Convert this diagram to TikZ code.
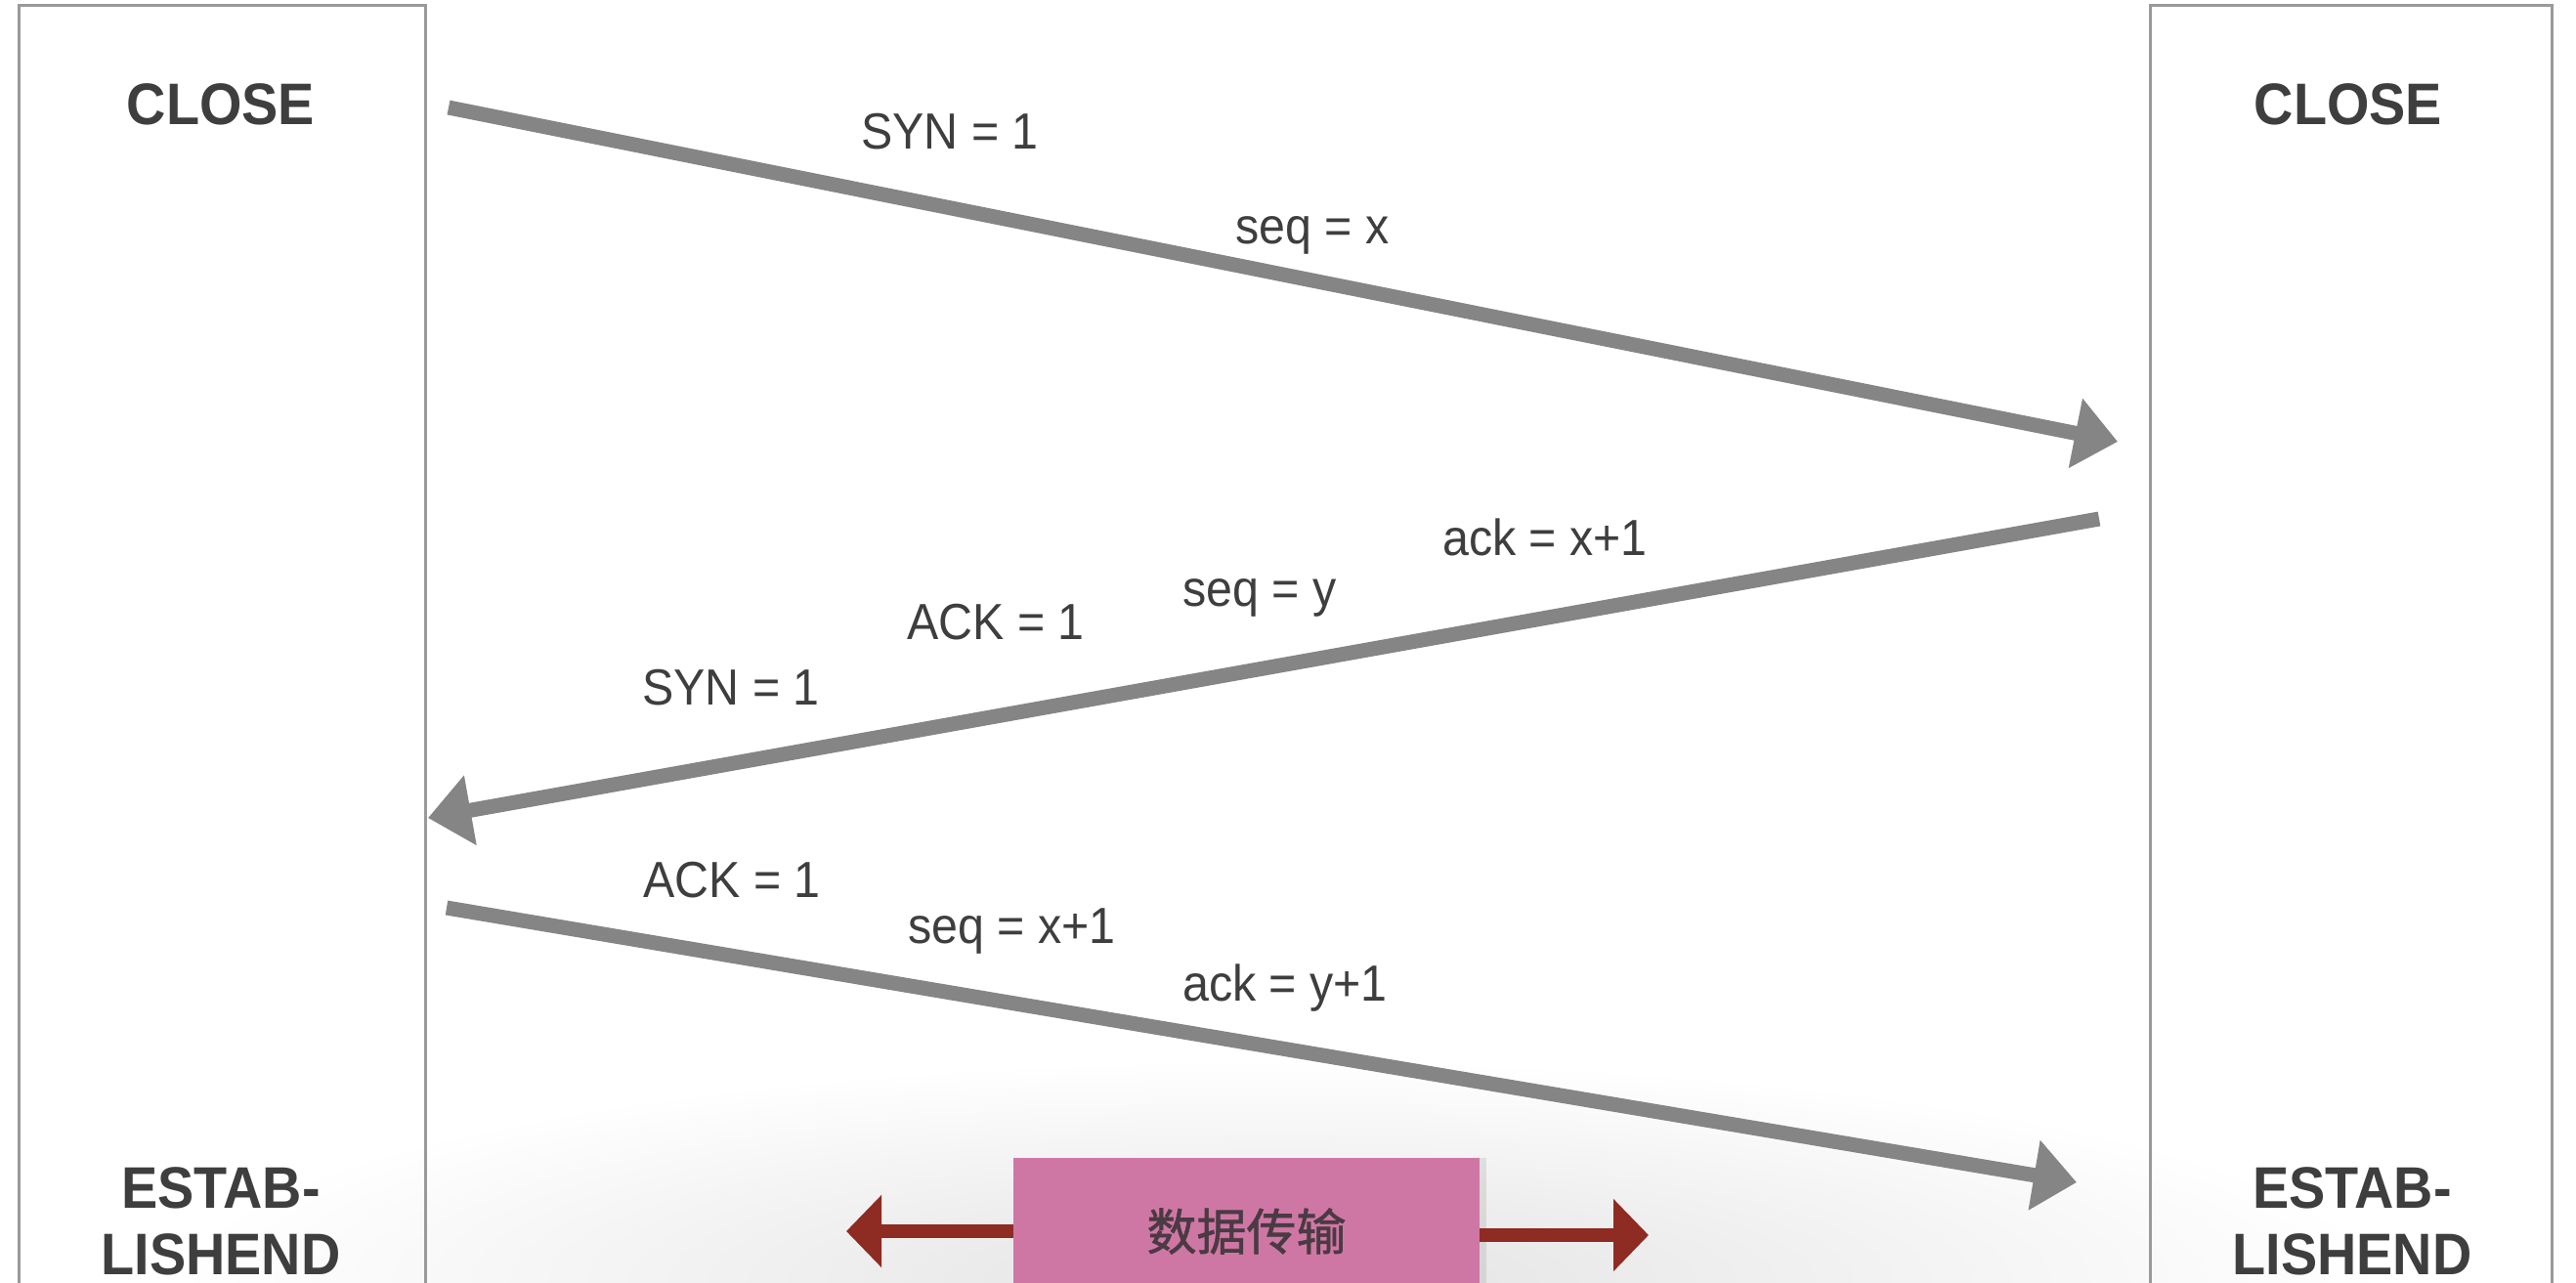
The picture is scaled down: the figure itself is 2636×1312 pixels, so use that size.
\documentclass[tikz,border=0pt]{standalone}
\usepackage{fontspec}
\setmainfont{Liberation Sans}[FakeStretch=0.93]
\newfontfamily\cjkfont{Noto Sans CJK SC}[FakeBold=1.2]
\usetikzlibrary{arrows.meta,shadows}
\definecolor{boxline}{HTML}{9A9A9A}
\definecolor{arrowgray}{HTML}{858585}
\definecolor{txt}{HTML}{3E3E3E}
\definecolor{pinkfill}{HTML}{CF77A4}
\definecolor{darkred}{HTML}{8E2B22}
\definecolor{pinktext}{HTML}{4A3A44}
\begin{document}
\begin{tikzpicture}[x=1pt,y=-1pt,
  side/.style={draw=boxline,line width=3pt,inner sep=0pt,anchor=north west},
  state/.style={font=\bfseries\fontsize{60}{68}\selectfont,text=txt,inner sep=0pt,align=center},
  lbl/.style={font=\fontsize{52}{60}\selectfont,text=txt,inner sep=0pt,anchor=base west},
  msg/.style={draw=arrowgray,line width=15pt,-{Triangle[length=44pt,width=70pt]}},
  data/.style={draw=darkred,line width=14pt,-{Triangle[length=36pt,width=72pt]}},
]
\useasboundingbox (0,0) rectangle (2636,1312);
\clip (0,0) rectangle (2636,1312);
\fill[white] (0,0) rectangle (2636,1312);
% soft floor shadow
\shade[inner color=black!11,outer color=white] (179,1084) rectangle (2441,1536);
% side columns
\node[side,minimum width=416pt,minimum height=1340pt] (client) at (18,4) {};
\node[side,minimum width=411pt,minimum height=1340pt] (server) at (2199,4) {};
% states
\node[state,anchor=base] (c1) at (226,127) {CLOSE};
\node[state,anchor=base] (s1) at (2403,127) {CLOSE};
\node[state] (c2) at (226,1250) {ESTAB-\\LISHEND};
\node[state] (s2) at (2407,1250) {ESTAB-\\LISHEND};
% message labels
\node[lbl] (l1) at (881,152) {SYN = 1};
\node[lbl] (l2) at (1264,249) {seq = x};
\node[lbl] (l3) at (1476,568) {ack = x+1};
\node[lbl] (l4) at (1210,620) {seq = y};
\node[lbl] (l5) at (928,654) {ACK = 1};
\node[lbl] (l6) at (657,721) {SYN = 1};
\node[lbl] (l7) at (658,918) {ACK = 1};
\node[lbl] (l8) at (929,965) {seq = x+1};
\node[lbl] (l9) at (1210,1024) {ack = y+1};
% messages
\coordinate (m1s) at (459,110);  \coordinate (m1e) at (2167,452);
\coordinate (m2s) at (2148,531); \coordinate (m2e) at (438,837);
\coordinate (m3s) at (457,929);  \coordinate (m3e) at (2125,1210);
\draw[msg] (m1s) -- (m1e);
\draw[msg] (m2s) -- (m2e);
\draw[msg] (m3s) -- (m3e);
% data transfer
\node[fill=pinkfill,minimum width=477pt,minimum height=150pt,inner sep=0pt,
      drop shadow={shadow xshift=7pt,shadow yshift=0pt,opacity=0.18},
      font=\cjkfont\fontsize{51}{60}\selectfont,text=pinktext] (xfer) at (1275.5,1260) {数据传输};
\coordinate (dl) at (866,1260);
\coordinate (dr) at (1687,1264);
\draw[data] (xfer.west |- dl) -- (dl);
\draw[data] (xfer.east |- dr) -- (dr);
\end{tikzpicture}
\end{document}
